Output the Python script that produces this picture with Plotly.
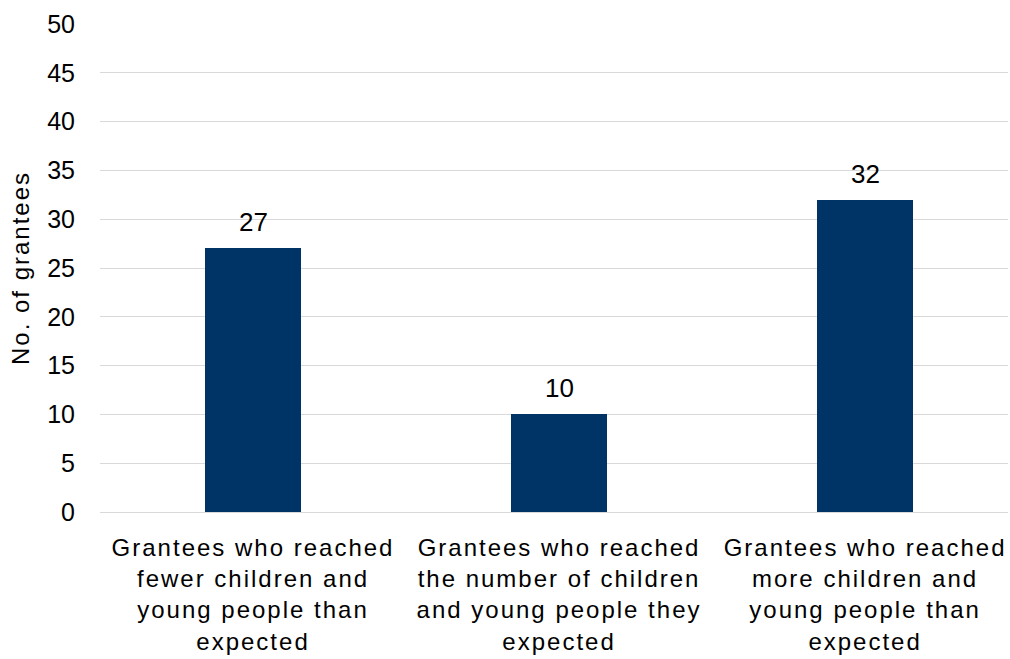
import plotly.graph_objects as go

categories = [
    "Grantees who reached<br>fewer children and<br>young people than<br>expected",
    "Grantees who reached<br>the number of children<br>and young people they<br>expected",
    "Grantees who reached<br>more children and<br>young people than<br>expected",
]
values = [27, 10, 32]
y_ticks = [0, 5, 10, 15, 20, 25, 30, 35, 40, 45, 50]

positions = list(range(len(categories)))
FONT = "Liberation Sans, Arial, sans-serif"

fig = go.Figure()
fig.add_trace(go.Bar(
    x=positions,
    y=values,
    width=0.314,
    marker=dict(color="#003366", line=dict(width=0)),
))

for xp, v in zip(positions, values):
    fig.add_annotation(
        x=xp, y=v, text=str(v), showarrow=False,
        yanchor="bottom", yshift=9,
        font=dict(size=26, color="#000000", family=FONT),
    )

fig.update_layout(
    width=1008,
    height=655,
    margin=dict(l=100, r=0, t=24, b=143),
    paper_bgcolor="white",
    plot_bgcolor="white",
    font=dict(family=FONT, color="#000000", size=25),
    showlegend=False,
    bargap=0,
)
fig.update_xaxes(
    range=[-0.5, 2.467],
    tickmode="array",
    tickvals=positions,
    ticktext=categories,
    showgrid=False,
    zeroline=False,
    showline=False,
    ticks="",
    tickfont=dict(size=24),
    ticklabelstandoff=19,
)
fig.update_yaxes(
    range=[0, 50],
    tickmode="array",
    tickvals=y_ticks,
    showgrid=True,
    gridcolor="#d9d9d9",
    gridwidth=1,
    zeroline=True,
    zerolinecolor="#d9d9d9",
    zerolinewidth=1,
    showline=False,
    ticks="",
    ticklen=0,
    tickfont=dict(size=25),
    ticklabelstandoff=24,
    title=dict(text="No. of grantees", font=dict(size=24), standoff=10),
)

css = (
    "var s=document.createElement('style');"
    "s.textContent='.xtick text, .ytitle {letter-spacing:2px;}';"
    "document.head.appendChild(s);"
    "document.body.style.margin='0';document.body.style.overflow='hidden';"
)
fig.write_html("out.html", post_script=css, config={"displayModeBar": False})
